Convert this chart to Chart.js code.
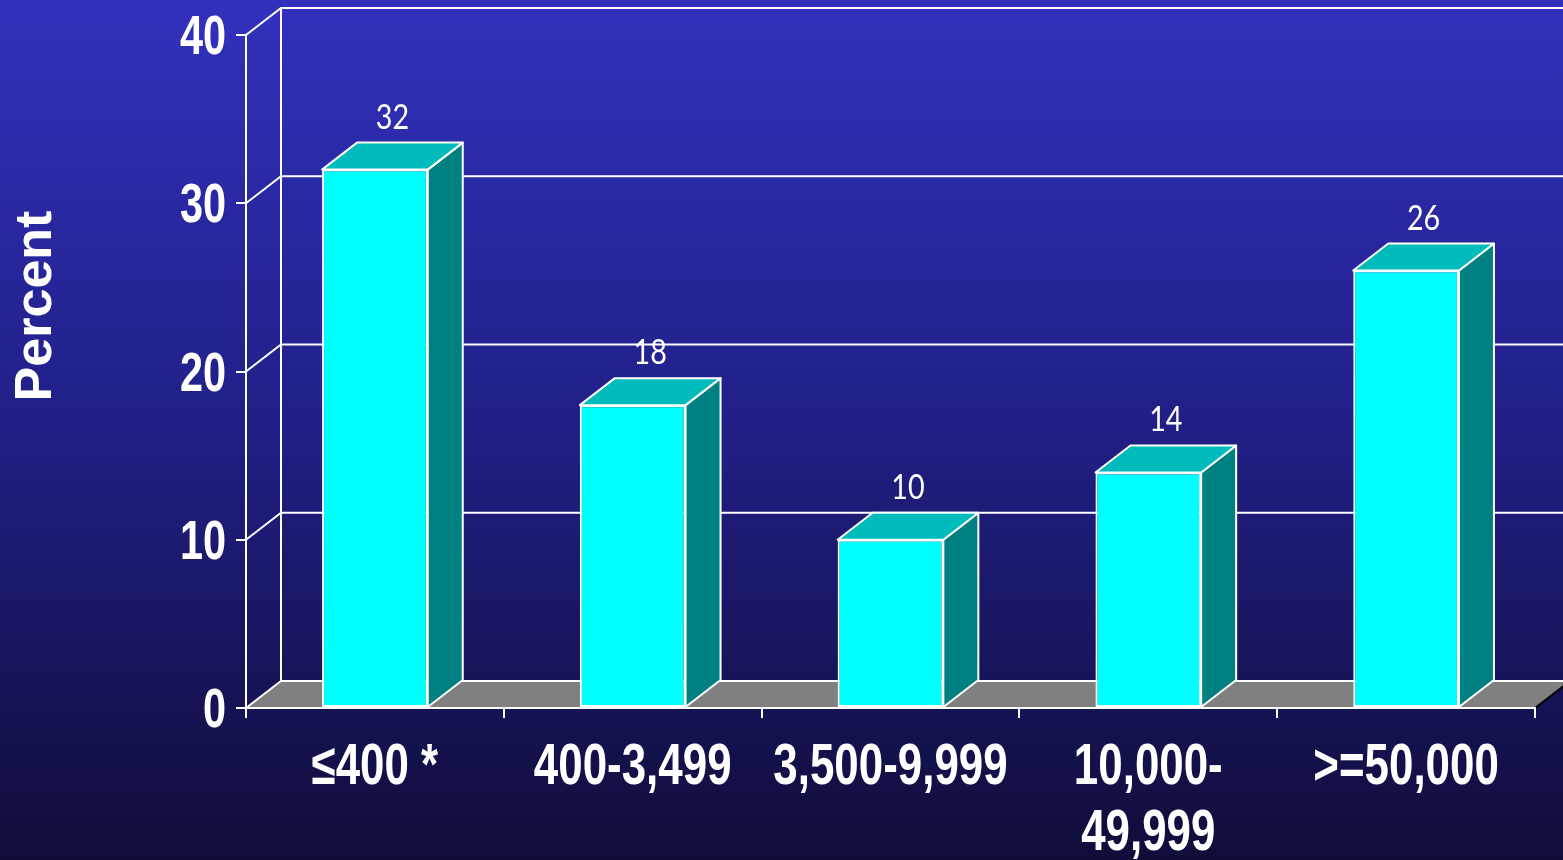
<!DOCTYPE html>
<html>
<head>
<meta charset="utf-8">
<script src="https://cdn.jsdelivr.net/npm/chart.js@4/dist/chart.umd.min.js"></script>
<style>
    html, body { margin: 0; padding: 0; background: #1c1c6a; }
    #chartBox { width: 1563px; height: 860px; }
</style>
</head>
<body>
<div id="chartBox"><canvas id="chartPopulation"></canvas></div>
<script>
// data
var categories = ['≤400 *', '400-3,499', '3,500-9,999', ['10,000-', '49,999'], '>=50,000'];
var percentValues = [32, 18, 10, 14, 26];
var yTickValues = [0, 10, 20, 30, 40];
var yTitle = 'Percent';

var boldFont = "'Liberation Sans', Arial, sans-serif";
var lightFont = "Lato, 'Open Sans', 'Liberation Sans', sans-serif";
var narrowX = 0.77;   // the original uses a condensed face, squeeze the text
var depthX = 35, depthY = 27;

// draw a text squeezed horizontally, anchored at (x, y)
function squeezedText(ctx, text, x, y, sx) {
    ctx.save();
    ctx.translate(x, y);
    ctx.scale(sx, 1);
    ctx.fillText(text, 0, 0);
    ctx.restore();
}

// background, floor and back wall of the fake 3d box, then the bar sides and tops
const box3d = {
    id: 'box3d',
    beforeDraw: function (chart) {
        var ctx = chart.ctx, area = chart.chartArea, yScale = chart.scales.y;
        var W = chart.width, H = chart.height;
        ctx.save();
        var grad = ctx.createLinearGradient(0, 0, 0, H);
        grad.addColorStop(0, '#3131bd');
        grad.addColorStop(0.5, '#211f85');
        grad.addColorStop(1, '#0f0d38');
        ctx.fillStyle = grad;
        ctx.fillRect(0, 0, W, H);

        var base = yScale.getPixelForValue(0);
        ctx.fillStyle = '#808080';
        ctx.beginPath();
        ctx.moveTo(area.left, base);
        ctx.lineTo(area.right, base);
        ctx.lineTo(area.right + depthX, base - depthY);
        ctx.lineTo(area.left + depthX, base - depthY);
        ctx.closePath();
        ctx.fill();

        ctx.strokeStyle = '#000000';
        ctx.lineWidth = 2;
        ctx.beginPath();
        ctx.moveTo(area.right, base);
        ctx.lineTo(area.right + depthX, base - depthY);
        ctx.stroke();

        ctx.strokeStyle = '#ffffff';
        ctx.lineWidth = 2;
        ctx.beginPath();
        ctx.moveTo(area.left + depthX, yScale.getPixelForValue(yTickValues[yTickValues.length - 1]) - depthY);
        ctx.lineTo(area.left + depthX, base - depthY);
        yTickValues.forEach(function (v) {
            var py = yScale.getPixelForValue(v);
            ctx.moveTo(area.left, py);
            ctx.lineTo(area.left + depthX, py - depthY);
            ctx.lineTo(W, py - depthY);
        });
        ctx.stroke();
        ctx.restore();
    },
    afterDatasetsDraw: function (chart) {
        var ctx = chart.ctx;
        var meta = chart.getDatasetMeta(0);
        ctx.save();
        ctx.lineWidth = 2;
        ctx.strokeStyle = '#ffffff';
        ctx.lineJoin = 'round';
        meta.data.forEach(function (bar, i) {
            var left = bar.x - bar.width / 2, right = bar.x + bar.width / 2;
            var top = bar.y, base = bar.base;

            ctx.fillStyle = '#008080';
            ctx.beginPath();
            ctx.moveTo(right, top);
            ctx.lineTo(right + depthX, top - depthY);
            ctx.lineTo(right + depthX, base - depthY);
            ctx.lineTo(right, base);
            ctx.closePath();
            ctx.fill();
            ctx.stroke();

            ctx.fillStyle = '#00bbbb';
            ctx.beginPath();
            ctx.moveTo(left, top);
            ctx.lineTo(left + depthX, top - depthY);
            ctx.lineTo(right + depthX, top - depthY);
            ctx.lineTo(right, top);
            ctx.closePath();
            ctx.fill();
            ctx.stroke();

            ctx.fillStyle = '#ffffff';
            ctx.font = '400 35px ' + lightFont;
            ctx.textAlign = 'center';
            ctx.textBaseline = 'alphabetic';
            squeezedText(ctx, String(percentValues[i]), bar.x + depthX / 2, top - depthY - 14, 0.82);
        });
        ctx.restore();
    },
    afterDraw: function (chart) {
        var ctx = chart.ctx, xScale = chart.scales.x, yScale = chart.scales.y;
        ctx.save();
        ctx.fillStyle = '#ffffff';
        ctx.textBaseline = 'alphabetic';

        // y tick labels
        ctx.font = 'bold 56px ' + boldFont;
        ctx.textAlign = 'right';
        yScale.ticks.forEach(function (t) {
            var py = yScale.getPixelForValue(t.value);
            squeezedText(ctx, String(t.value), 226, py + 19, 0.74);
        });

        // x category labels, some on two lines
        ctx.font = 'bold 57px ' + boldFont;
        ctx.textAlign = 'center';
        categories.forEach(function (lab, i) {
            var px = xScale.getPixelForTick(i);
            var lines = Array.isArray(lab) ? lab : [lab];
            lines.forEach(function (line, k) {
                squeezedText(ctx, line, px, 784 + k * 66, narrowX);
            });
        });

        // axis title
        ctx.font = 'bold 52px ' + boldFont;
        ctx.translate(51, 306);
        ctx.rotate(-Math.PI / 2);
        ctx.fillText(yTitle, 0, 0);
        ctx.restore();
    }
};

const popChart = new Chart(document.getElementById('chartPopulation'), {
    type: 'bar',
    data: {
        labels: categories,
        datasets: [{
            data: percentValues,
            backgroundColor: '#00ffff',
            borderColor: '#ffffff',
            borderWidth: 2,
            borderSkipped: false,
            categoryPercentage: 1,
            barPercentage: 0.41
        }]
    },
    options: {
        responsive: true,
        maintainAspectRatio: false,
        animation: false,
        layout: { padding: { top: 35, right: 28, left: 0, bottom: 0 } },
        plugins: {
            legend: { display: false },
            tooltip: { enabled: false }
        },
        scales: {
            x: {
                afterFit: function (scale) { scale.height = 152; },
                grid: {
                    display: true,
                    offset: true,
                    drawOnChartArea: false,
                    drawTicks: true,
                    tickLength: 10,
                    color: '#ffffff',
                    lineWidth: 2
                },
                border: { color: '#ffffff', width: 2 },
                ticks: { display: false }
            },
            y: {
                min: 0,
                max: 40,
                afterFit: function (scale) { scale.width = 246; },
                afterBuildTicks: function (scale) {
                    scale.ticks = yTickValues.map(function (v) { return { value: v }; });
                },
                grid: {
                    drawOnChartArea: false,
                    drawTicks: true,
                    tickLength: 10,
                    color: '#ffffff',
                    lineWidth: 2
                },
                border: { color: '#ffffff', width: 2 },
                ticks: { display: false }
            }
        }
    },
    plugins: [box3d]
});
</script>
</body>
</html>
